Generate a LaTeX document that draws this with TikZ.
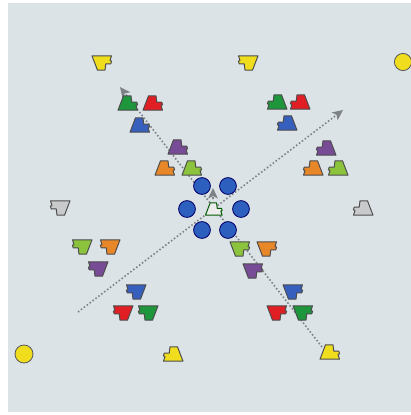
\documentclass[tikz,border=0pt]{standalone}
\usetikzlibrary{arrows.meta}
\definecolor{bg}{RGB}{220,227,231}
\definecolor{pyellow}{RGB}{240,222,30}
\definecolor{pgreen}{RGB}{30,150,60}
\definecolor{pred}{RGB}{225,30,35}
\definecolor{pblue}{RGB}{55,95,190}
\definecolor{ppurple}{RGB}{120,75,150}
\definecolor{porange}{RGB}{232,135,40}
\definecolor{plime}{RGB}{140,195,60}
\definecolor{pgray}{RGB}{200,202,204}
\definecolor{cblue}{RGB}{45,95,190}
\definecolor{runcol}{RGB}{125,130,135}
\tikzset{
  player/.pic={\path[pic actions] (-4.5,-7.2) -- (3,-7.2) -- (3.8,-0.8) -- (8.8,-0.8) -- (9.6,1.8) -- (8,2.4) -- (9.5,7.2) -- (-10,7.2) -- cycle;},
  pl/.style={draw=black!70, line width=0.7pt, line join=round},
  runline/.style={draw=runcol, line width=1.15pt, dash pattern=on 1.1pt off 1.5pt, -{Stealth[length=2.6mm,width=2.4mm,inset=0.6mm]}},
  cone/.style={circle, draw=black!65, fill=pyellow, line width=0.6pt, inner sep=0pt},
  disc/.style={circle, draw=blue!40!black, fill=cblue, line width=0.6pt, inner sep=0pt, minimum size=4.2mm}
}
\begin{document}
\begin{tikzpicture}[x=0.25mm, y=-0.25mm]
\useasboundingbox (0,0) rectangle (411,415);
\fill[white] (0,0) rectangle (411,415);
\fill[bg] (8,3) rectangle (411,412);
% runs
\coordinate (r1s) at (78,312);
\coordinate (r1e) at (343,110);
\coordinate (r2s) at (322,347);
\coordinate (r2e) at (120,87);
\draw[runline] (r1s) -- (r1e);
\draw[runline] (r2s) -- (r2e);
% central discs
\foreach \n/\x/\y in {d1/202/186, d2/228/186, d3/187/209, d4/241/209, d5/202/230, d6/228/230}
  \node[disc] (\n) at (\x,\y) {};
% centre player and short run
\coordinate (cp) at (214,209);
\coordinate (cpa) at (213,199);
\coordinate (cpb) at (213,188);
\draw[runline] (cpa) -- (cpb);
\pic[pl, fill=gray!15, draw=green!35!black, scale=0.85] at (cp) {player};
% yellow cones
\node[cone, minimum size=4.3mm] (c1) at (403,62) {};
\node[cone, minimum size=4.5mm] (c2) at (24,354) {};
% players: name/x/y/colour/xscale/yscale
\foreach \n/\x/\y/\c/\sx/\sy in {
  y1/102/63/pyellow/1/-1, y2/248/63/pyellow/-1/-1,
  y3/173/354/pyellow/-1/1, y4/330/352/pyellow/1/1,
  g1/60/208/pgray/-1/-1, g2/363/208/pgray/-1/1,
  a1/128/103/pgreen/1/1, a2/153/103/pred/1/1, a3/140/125/pblue/1/1,
  a4/178/147/ppurple/1/1, a5/165/168/porange/1/1, a6/192/168/plime/1/1,
  b1/277/102/pgreen/-1/1, b2/300/102/pred/-1/1, b3/287/123/pblue/-1/1,
  b4/326/148/ppurple/-1/1, b5/313/168/porange/-1/1, b6/338/168/plime/-1/1,
  e1/82/247/plime/-1/-1, e2/110/247/porange/-1/-1, e3/98/269/ppurple/-1/-1,
  e4/136/292/pblue/-1/-1, e5/123/313/pred/-1/-1, e6/148/313/pgreen/-1/-1,
  f1/240/249/plime/1/-1, f2/267/249/porange/1/-1, f3/253/271/ppurple/1/-1,
  f4/293/292/pblue/1/-1, f5/277/313/pred/1/-1, f6/303/313/pgreen/1/-1}
{
  \coordinate (\n) at (\x,\y);
  \pic[pl, fill=\c, xscale=\sx, yscale=\sy] at (\n) {player};
}
\end{tikzpicture}
\end{document}
